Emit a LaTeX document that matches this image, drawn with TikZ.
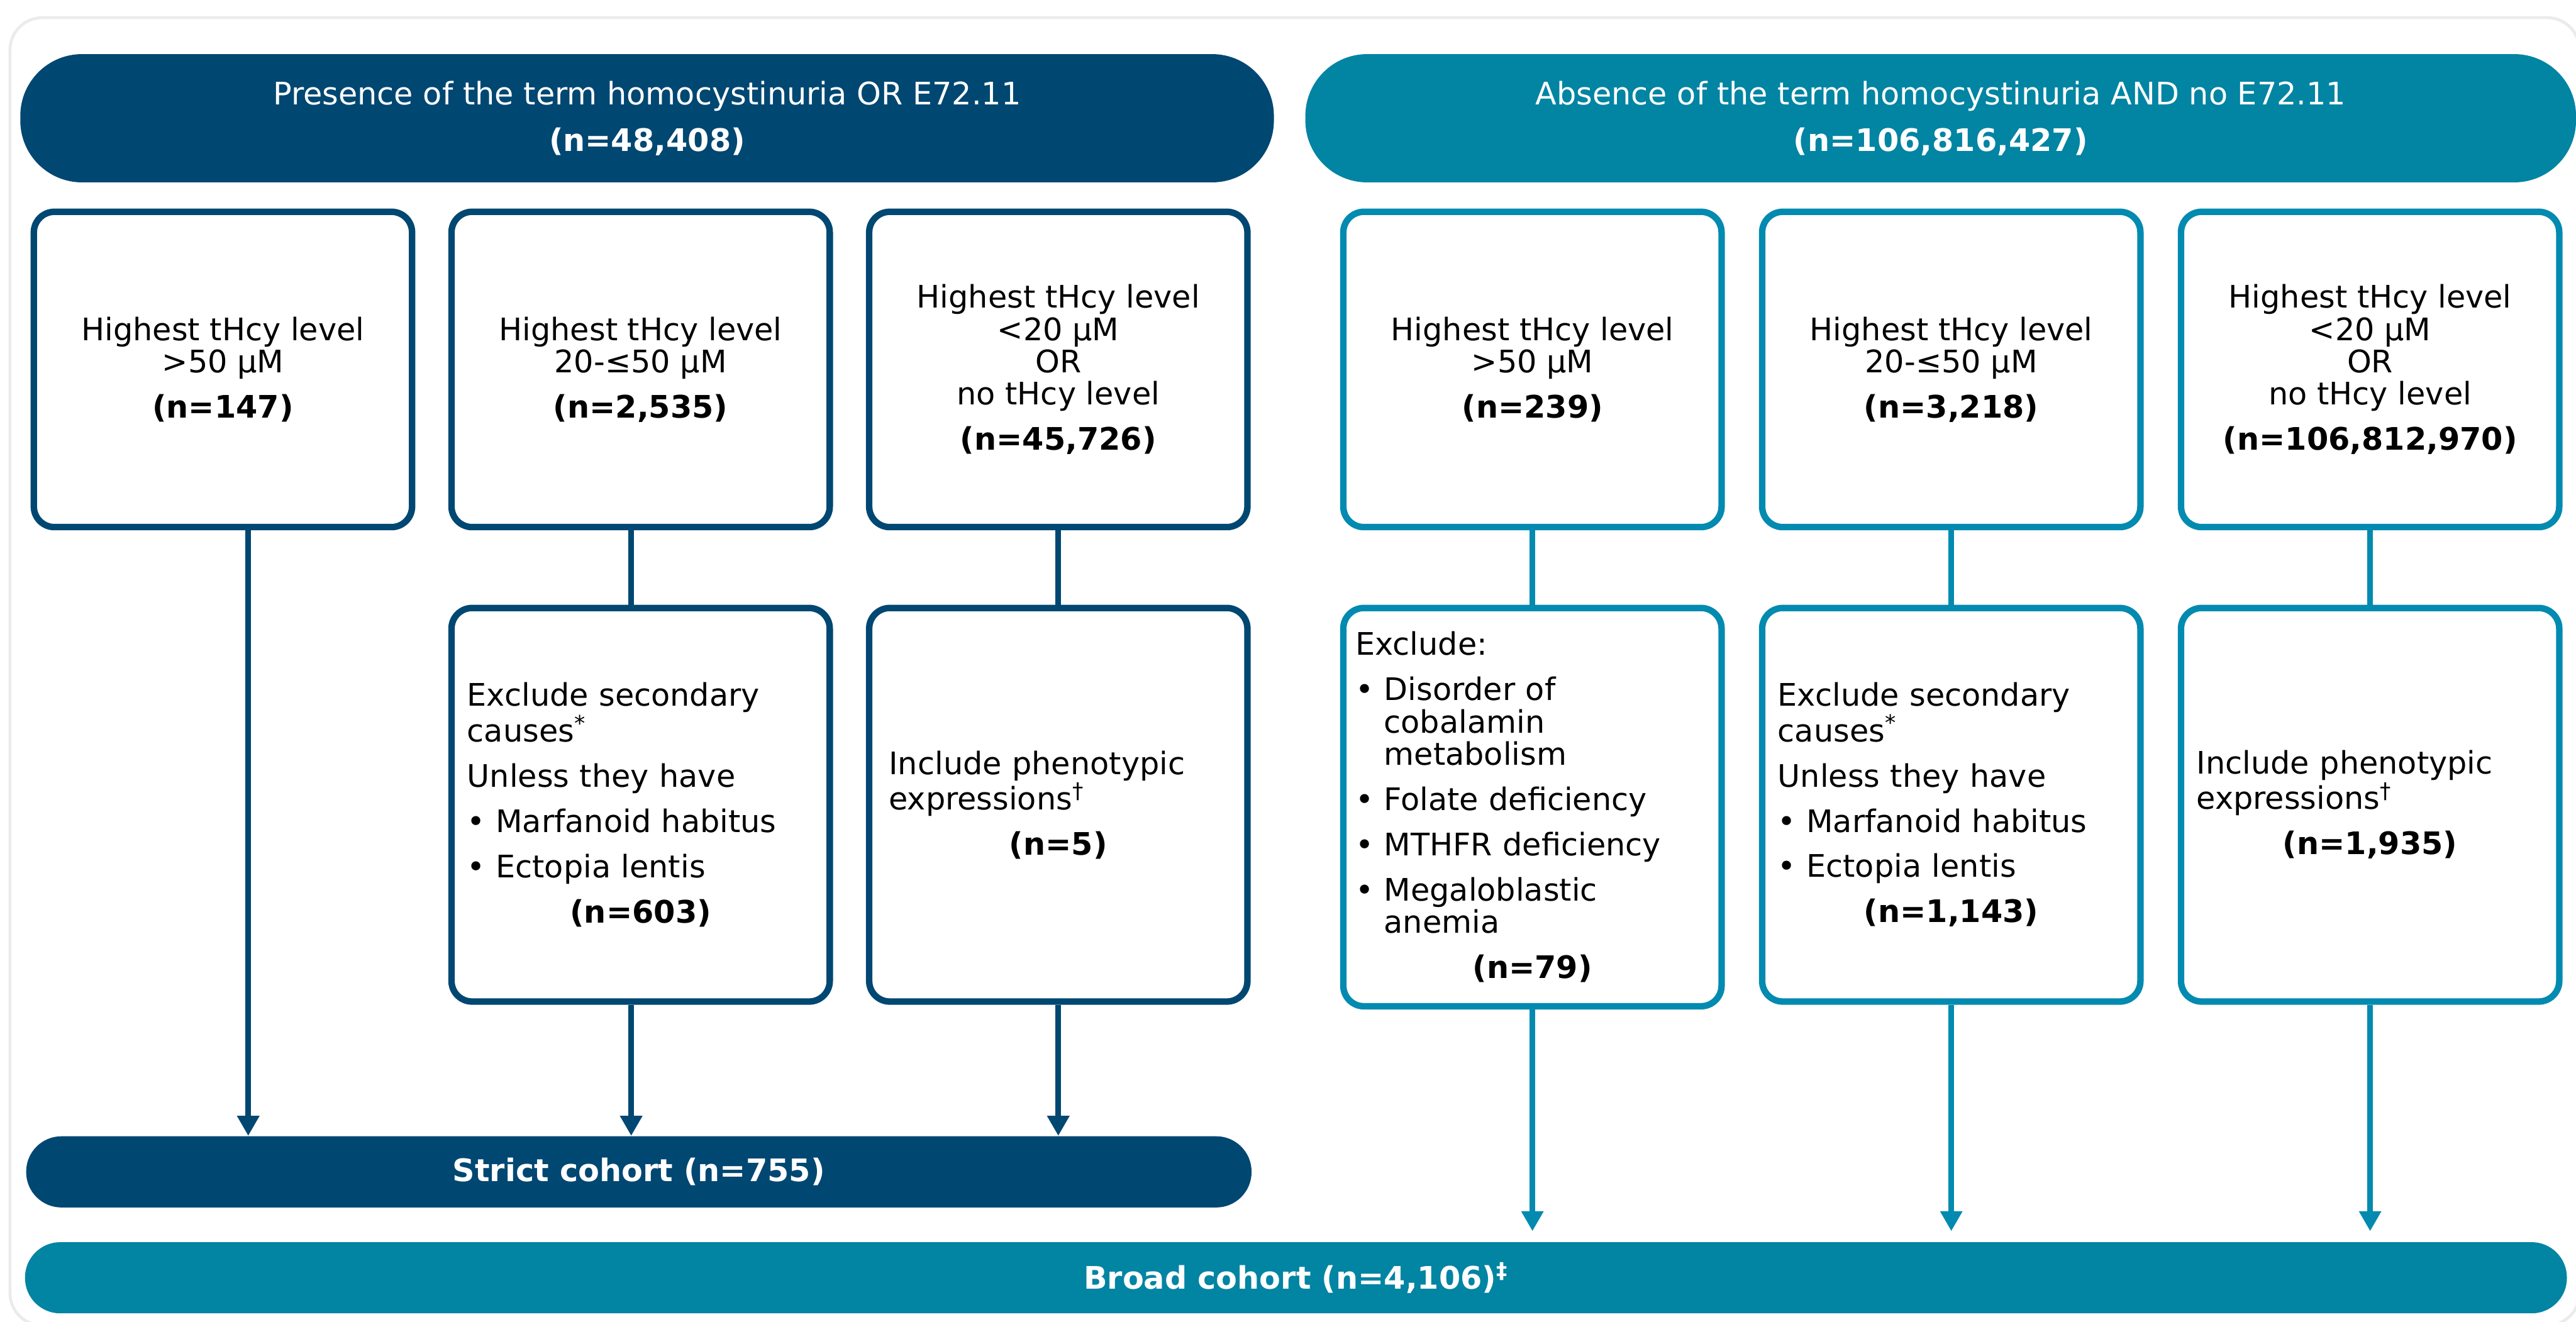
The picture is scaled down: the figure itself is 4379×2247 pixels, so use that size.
\documentclass[tikz,border=0pt]{standalone}
\usepackage{fontspec}
\setmainfont{DejaVu Sans}
\usepackage{tikz}
\usetikzlibrary{arrows.meta}
\definecolor{navy}{HTML}{004772}
\definecolor{tealfill}{HTML}{0284A3}
\definecolor{tealline}{HTML}{038AB0}
\definecolor{framegray}{HTML}{EBEBEB}
\newcommand{\ind}{\hphantom{• }}
\newcommand{\nline}[1]{\makebox[\hsize][c]{\textbf{#1}}}
\tikzstyle{txt} = [font=\fontsize{15}{15.6}\selectfont]
\tikzstyle{pill} = [txt, text=white, align=center, inner sep=0pt]
\tikzstyle{boxL} = [txt, draw=navy, line width=1.1mm, rounded corners=3.5mm, fill=white, minimum width=6.43cm, inner sep=0pt]
\tikzstyle{boxR} = [boxL, draw=tealline]
\tikzstyle{lineL} = [navy, line width=1mm]
\tikzstyle{lineR} = [tealline, line width=1mm]
\tikzstyle{arrowL} = [lineL, -{Triangle[width=3.6mm,length=3.4mm]}]
\tikzstyle{arrowR} = [lineR, -{Triangle[width=3.6mm,length=3.4mm]}]

\begin{document}
\begin{tikzpicture}[x=0.1mm,y=-0.1mm]
	\useasboundingbox (0,0) rectangle (4379,2247);
	\clip (0,0) rectangle (4379,2247);
	\draw[framegray, line width=0.5mm, rounded corners=5.5mm] (17,30) rectangle (4385,2253);

	% top groups
	\node[pill, fill=navy, minimum width=21.31cm, minimum height=2.18cm, rounded corners=10.5mm] (presence) at (1100,201) {Presence of the term homocystinuria OR E72.11\\[7pt]\textbf{(n=48,408)}};
	\node[pill, fill=tealfill, minimum width=21.6cm, minimum height=2.18cm, rounded corners=10.5mm] (absence) at (3299,201) {Absence of the term homocystinuria AND no E72.11\\[7pt]\textbf{(n=106,816,427)}};

	% tHcy levels
	\node[boxL, minimum height=5.36cm, align=center] (hL1) at (379,628) {Highest tHcy level\\>50 µM\\[6.3pt]\textbf{(n=147)}};
	\node[boxL, minimum height=5.36cm, align=center] (hL2) at (1089,628) {Highest tHcy level\\20-≤50 µM\\[6.3pt]\textbf{(n=2,535)}};
	\node[boxL, minimum height=5.36cm, align=center] (hL3) at (1799,628) {Highest tHcy level\\<20 µM\\OR\\no tHcy level\\[6.3pt]\textbf{(n=45,726)}};
	\node[boxR, minimum height=5.36cm, align=center] (hR1) at (2605,628) {Highest tHcy level\\>50 µM\\[6.3pt]\textbf{(n=239)}};
	\node[boxR, minimum height=5.36cm, align=center] (hR2) at (3317,628) {Highest tHcy level\\20-≤50 µM\\[6.3pt]\textbf{(n=3,218)}};
	\node[boxR, minimum height=5.36cm, align=center] (hR3) at (4029,628) {Highest tHcy level\\<20 µM\\OR\\no tHcy level\\[6.3pt]\textbf{(n=106,812,970)}};

	% exclusions / inclusions
	\node[boxL, minimum height=6.69cm, text width=5.9cm, align=left] (xL2) at (1089,1368) {Exclude secondary\\causes\textsuperscript{*}\\[6.3pt]Unless they have\\[6.3pt]• Marfanoid habitus\\[6.3pt]• Ectopia lentis\\[6.3pt]\nline{(n=603)}};
	\node[boxL, minimum height=6.69cm, text width=5.76cm, align=left] (xL3) at (1799,1368) {Include phenotypic\\expressions\textsuperscript{†}\\[6.3pt]\nline{(n=5)}};
	\node[boxR, minimum height=6.77cm, text width=6.02cm, align=left] (xR1) at (2605,1372) {Exclude:\\[6.3pt]• Disorder of\\\ind cobalamin\\\ind metabolism\\[6.3pt]• Folate deficiency\\[6.3pt]• MTHFR deficiency\\[6.3pt]• Megaloblastic\\\ind anemia\\[6.3pt]\nline{(n=79)}};
	\node[boxR, minimum height=6.69cm, text width=5.9cm, align=left] (xR2) at (3317,1368) {Exclude secondary\\causes\textsuperscript{*}\\[6.3pt]Unless they have\\[6.3pt]• Marfanoid habitus\\[6.3pt]• Ectopia lentis\\[6.3pt]\nline{(n=1,143)}};
	\node[boxR, minimum height=6.69cm, text width=5.9cm, align=left] (xR3) at (4029,1368) {Include phenotypic\\expressions\textsuperscript{†}\\[6.3pt]\nline{(n=1,935)}};

	% cohorts
	\node[pill, fill=navy, minimum width=20.83cm, minimum height=1.21cm, rounded corners=6mm] (strict) at (1086,1992) {\textbf{Strict cohort (n=755)}};
	\node[pill, fill=tealfill, minimum width=43.21cm, minimum height=1.21cm, rounded corners=6mm] (broad) at (2203,2172) {\textbf{Broad cohort (n=4,106)\textsuperscript{‡}}};

	% connectors
	\draw[lineL] ([xshift=-1.6mm]hL2.south) -- ([xshift=-1.6mm]xL2.north);
	\draw[lineL] (hL3.south) -- (xL3.north);
	\draw[lineR] (hR1.south) -- (xR1.north);
	\draw[lineR] (hR2.south) -- (xR2.north);
	\draw[lineR] (hR3.south) -- (xR3.north);

	\draw[arrowL] ([xshift=4.3mm]hL1.south) -- ([xshift=4.3mm]hL1.south |- strict.north);
	\draw[arrowL] ([xshift=-1.6mm]xL2.south) -- ([xshift=-1.6mm]xL2.south |- strict.north);
	\draw[arrowL] (xL3.south) -- (xL3.south |- strict.north);
	\draw[arrowR, shorten >=1.8mm] (xR1.south) -- (xR1.south |- broad.north);
	\draw[arrowR, shorten >=1.8mm] (xR2.south) -- (xR2.south |- broad.north);
	\draw[arrowR, shorten >=1.8mm] (xR3.south) -- (xR3.south |- broad.north);
\end{tikzpicture}
\end{document}
